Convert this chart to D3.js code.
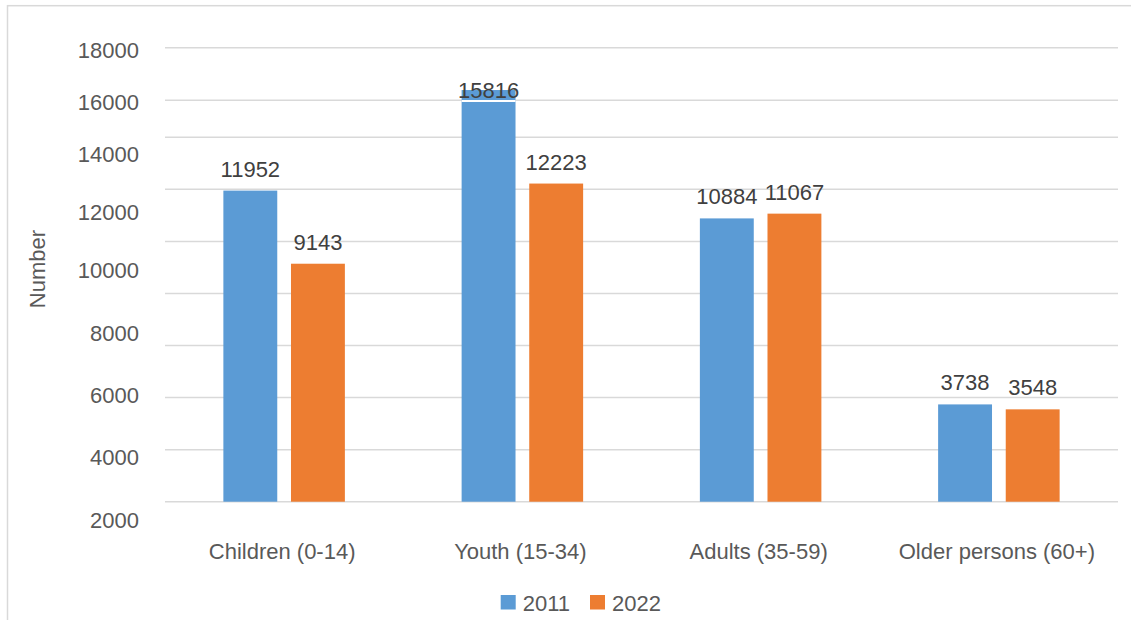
<!DOCTYPE html>
<html>
<head>
<meta charset="utf-8">
<script src="https://cdn.jsdelivr.net/npm/d3@7"></script>
<style>
    body { margin:0; background:#fff; }
    svg { display:block; }
</style>
</head>
<body>
<svg id="svg__container" width="1131" height="620"></svg>
<script>
const categories=["Children (0-14)", "Youth (15-34)", "Adults (35-59)", "Older persons (60+)"];
const seriesNames=["2011", "2022"];
const values2011=[11952, 15816, 10884, 3738];
const values2022=[9143, 12223, 11067, 3548];
const gridValues=[0, 2000, 4000, 6000, 8000, 10000, 12000, 14000, 16000, 18000];
const tickLabels=[2000, 4000, 6000, 8000, 10000, 12000, 14000, 16000, 18000];
const seriesColors=["#5B9BD5", "#ED7D31"];

const rows=categories.map((category, index)=>({
    category,
    values: [values2011[index], values2022[index]]
}));

const svgTag=d3.select("#svg__container");
const fontFamily="'Liberation Sans', Arial, sans-serif";
const fontSize=22;

// plot area
const plotLeft=165;
const plotRight=1118;
const plotBottom=501.7;

// outer frame (cut at right / bottom like the picture)
svgTag.append("rect")
    .attr("x", 7.5).attr("y", 5.7)
    .attr("width", 1200).attr("height", 700)
    .attr("fill", "none")
    .attr("stroke", "#d9d9d9")
    .attr("stroke-width", 1.5);

const x0=d3.scaleBand()
    .domain(categories)
    .range([plotLeft, plotRight])
    .paddingInner(0.49)
    .paddingOuter(0.245);
const x1=d3.scaleBand()
    .domain(seriesNames)
    .range([0, x0.bandwidth()])
    .paddingInner(0.203);

// bars use a plain linear scale, the gridlines / tick labels of the picture are uneven
const yBar=d3.scaleLinear().domain([0, 14000]).range([plotBottom, 137.3]);
const yGrid=d3.scaleLinear().domain([0, 14000, 16000, 18000]).range([plotBottom, 137.3, 100.3, 47.7]);
const yLabel=d3.scaleLinear().domain([2000, 10000, 14000, 18000]).range([520, 270.7, 154, 50]);

const gridG=svgTag.append("g");
gridValues.forEach((value)=>{
    gridG.append("line")
        .attr("x1", plotLeft).attr("x2", plotRight)
        .attr("y1", yGrid(value)).attr("y2", yGrid(value))
        .attr("stroke", "#d9d9d9")
        .attr("stroke-width", 1.5);
});

const yAxis=d3.axisLeft(yLabel)
    .tickValues(tickLabels)
    .tickSize(0)
    .tickPadding(0)
    .tickFormat(d3.format("d"));
const yAxisG=svgTag.append("g")
    .attr("transform", "translate(139,0)")
    .call(yAxis);
yAxisG.select(".domain").remove();
yAxisG.selectAll("text")
    .attr("font-family", fontFamily)
    .attr("font-size", fontSize)
    .attr("fill", "#595959");

const groupG=svgTag.append("g")
    .selectAll("g")
    .data(rows)
    .join("g")
    .attr("transform", (d)=>`translate(${x0(d.category)},0)`);

const barData=(d)=>d.values.map((value, index)=>({ name: seriesNames[index], value, index }));

groupG.selectAll("rect")
    .data(barData)
    .join("rect")
    .attr("x", (d)=>x1(d.name))
    .attr("y", (d)=>yBar(d.value))
    .attr("width", x1.bandwidth())
    .attr("height", (d)=>plotBottom-yBar(d.value))
    .attr("fill", (d)=>seriesColors[d.index]);

// white cut where the tall bar passes the 16000 gridline
groupG.selectAll("line.cut")
    .data((d)=>barData(d).filter((b)=>yBar(b.value)<yGrid(16000)))
    .join("line")
    .attr("class", "cut")
    .attr("x1", (d)=>x1(d.name)).attr("x2", (d)=>x1(d.name)+x1.bandwidth())
    .attr("y1", yGrid(16000)+0.6).attr("y2", yGrid(16000)+0.6)
    .attr("stroke", "#fff")
    .attr("stroke-width", 2);

// value labels, kept inside the chart top
const labelMinBaseline=98;
groupG.selectAll("text")
    .data(barData)
    .join("text")
    .attr("x", (d)=>x1(d.name)+x1.bandwidth()/2)
    .attr("y", (d)=>Math.max(yBar(d.value)-14, labelMinBaseline))
    .attr("text-anchor", "middle")
    .attr("font-family", fontFamily)
    .attr("font-size", fontSize)
    .attr("fill", "#404040")
    .text((d)=>d.value);

const xAxis=d3.axisBottom(x0).tickSize(0).tickPadding(0);
const xAxisG=svgTag.append("g")
    .attr("transform", "translate(-2,558.5)")
    .call(xAxis);
xAxisG.select(".domain").remove();
xAxisG.selectAll("text")
    .attr("dy", 0)
    .attr("font-family", fontFamily)
    .attr("font-size", fontSize)
    .attr("fill", "#595959");

svgTag.append("text")
    .attr("transform", "translate(45,269) rotate(-90)")
    .attr("text-anchor", "middle")
    .attr("font-family", fontFamily)
    .attr("font-size", fontSize)
    .attr("fill", "#595959")
    .text("Number");

// legend
const legendG=svgTag.append("g").attr("transform", "translate(500.7,595)");
seriesNames.forEach((name, index)=>{
    const item=legendG.append("g").attr("transform", `translate(${index*89.3},0)`);
    item.append("rect")
        .attr("width", 15).attr("height", 14.5)
        .attr("fill", seriesColors[index]);
    item.append("text")
        .attr("x", 22).attr("y", 15.7)
        .attr("font-family", fontFamily)
        .attr("font-size", fontSize)
        .attr("fill", "#595959")
        .text(name);
});
</script>
</body>
</html>
